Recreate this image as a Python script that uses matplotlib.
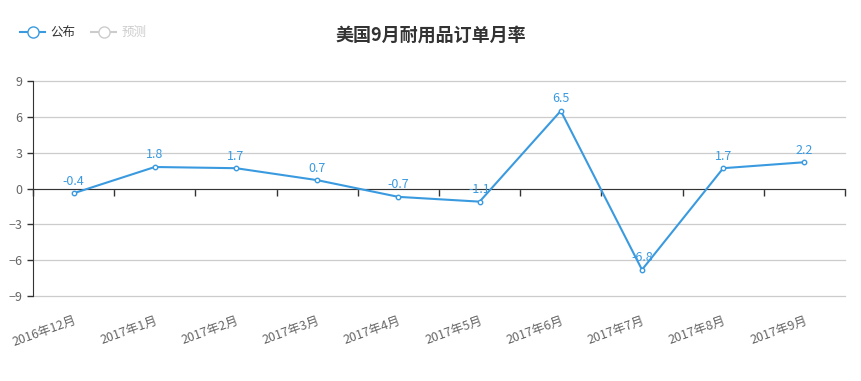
import numpy as np
import matplotlib.pyplot as plt

plt.rcParams['font.family'] = ['Noto Sans CJK SC', 'DejaVu Sans']

# 数据
months = ["2016年12月", "2017年1月", "2017年2月", "2017年3月", "2017年4月",
          "2017年5月", "2017年6月", "2017年7月", "2017年8月", "2017年9月"]
published = [-0.4, 1.8, 1.7, 0.7, -0.7, -1.1, 6.5, -6.8, 1.7, 2.2]
forecast = []

blue = "#3a9ae0"
fig = plt.figure(figsize=(8.61, 3.81), dpi=100)
ax = fig.add_axes([33 / 861, 1 - 296 / 381, 812 / 861, 215 / 381])

x = np.arange(len(months))
ax.plot(x, published, color=blue, lw=1.5, marker="o", ms=3.2,
        mfc="white", mec=blue, mew=1, label="公布", zorder=3)
ax.plot(forecast, forecast, color="#cccccc", lw=1.5, marker="o", ms=8,
        mfc="white", mec="#cccccc", label="预测")

for xi, v in zip(x, published):
    ax.annotate(f"{v:g}", (xi, v), xytext=(0, 4), textcoords="offset points",
                ha="center", va="bottom", color=blue, fontsize=9)

ax.set_xlim(-0.5, len(months) - 0.5)
ax.set_ylim(-9, 9)
ax.set_yticks(np.arange(-9, 10, 3))
ax.yaxis.grid(True, color="#cccccc", lw=0.9)
for gl in ax.get_ygridlines():
    gl.set_clip_on(False)
ax.set_axisbelow(True)
ax.tick_params(axis="y", colors="#333333", labelcolor="#666666", length=4,
               labelsize=9, width=1)

# x轴放在0处，刻度在类目边界
ax.spines["bottom"].set_position(("data", 0))
ax.spines["bottom"].set_color("#333333")
ax.spines["left"].set_color("#333333")
ax.spines["top"].set_visible(False)
ax.spines["right"].set_visible(False)
ax.set_xticks(np.arange(len(months) + 1) - 0.5)
ax.set_xticklabels([])
ax.tick_params(axis="x", length=5, color="#333333", width=1)

lab = ax.secondary_xaxis(0)
lab.set_xticks(x)
lab.set_xticklabels(months, rotation=20, ha="right", rotation_mode="anchor",
                    color="#666666", fontsize=9)
lab.tick_params(length=0, pad=13)
lab.spines["bottom"].set_visible(False)

fig.text(0.5, 1 - 35 / 381, "美国9月耐用品订单月率", ha="center", va="center",
         fontsize=13, fontweight="bold", color="#333333")

leg = ax.legend(loc="upper left", bbox_to_anchor=(15 / 861, 1 - 21 / 381),
                bbox_transform=fig.transFigure, ncol=2, frameon=False,
                fontsize=9, handlelength=2.0, columnspacing=1.3,
                handletextpad=0.4, borderaxespad=0)
leg.get_texts()[0].set_color("#333333")
leg.get_texts()[1].set_color("#cccccc")
leg.legend_handles[0].set_markersize(8)

fig.savefig("out.png", dpi=100)
